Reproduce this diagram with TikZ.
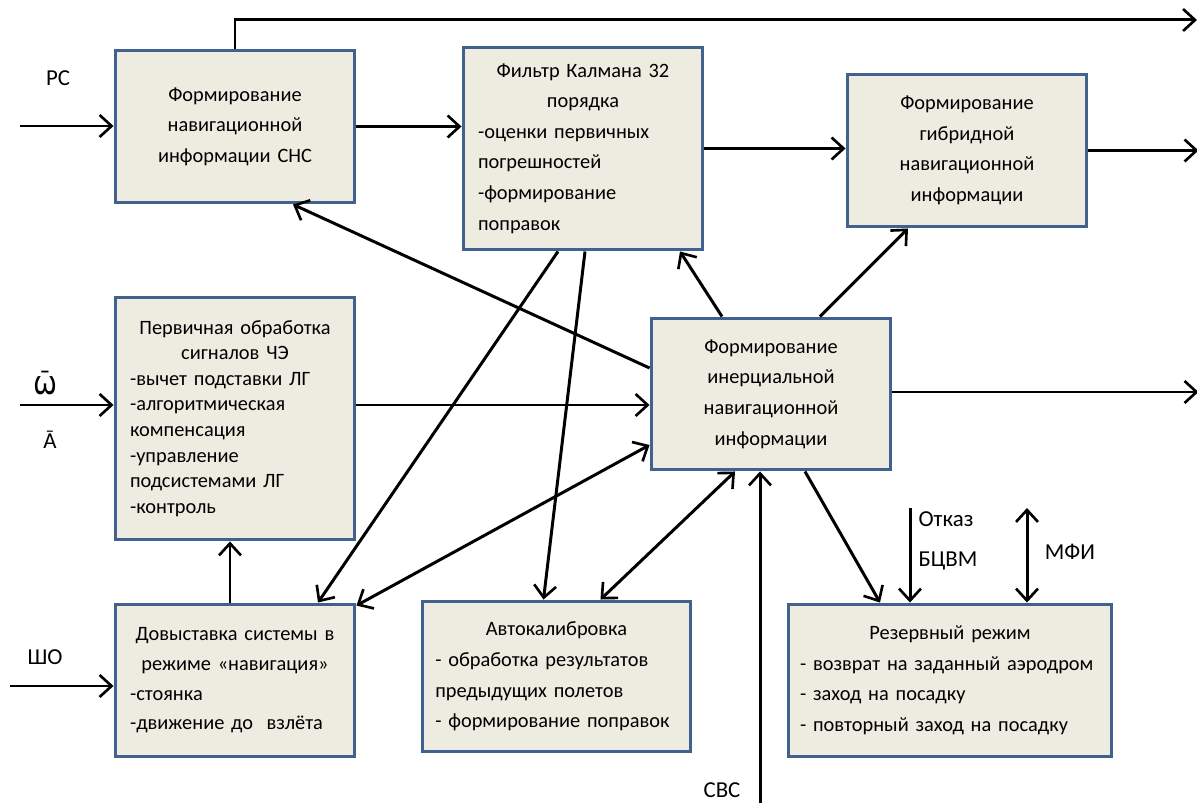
\documentclass[tikz,border=0pt]{standalone}
\usepackage{fontspec}
\setmainfont{Carlito}
\newfontfamily\dejavu{DejaVu Sans}
\usetikzlibrary{arrows.meta,calc}
\definecolor{boxfill}{HTML}{EEEBE1}
\definecolor{boxline}{HTML}{41628F}
\tikzset{
  blok/.style={draw=boxline,line width=1.7pt,fill=boxfill,minimum width=4.8cm,minimum height=3.06cm,
    inner sep=0pt,text width=4.2cm,font=\fontsize{11.6}{17.4}\selectfont},
  arr/.style={line width=1.7pt,-{Straight Barb[length=2.4mm,width=4.4mm,line width=1.5pt]}},
  darr/.style={line width=1.7pt,{Straight Barb[length=2.4mm,width=4.4mm,line width=1.5pt]}-{Straight Barb[length=2.4mm,width=4.4mm,line width=1.5pt]}},
  lbl/.style={font=\fontsize{13}{16}\selectfont}
}
\begin{document}
\begin{tikzpicture}[x=0.02cm,y=-0.02cm]
       \useasboundingbox (0,0) rectangle (1197,803);
       % blocks
       \node[blok,align=center] (sns) at (235,126.5) {Формирование\\навигационной\\информации СНС};
       \node[blok,minimum height=4.06cm] (kal) at (583,148.5) {\centering Фильтр Калмана 32\\порядка\par\raggedright
         -оценки первичных\\погрешностей\\-формирование\\поправок};
       \node[blok,align=center] (hyb) at (967,150.5) {Формирование\\гибридной\\навигационной\\информации};
       \node[blok,minimum height=4.86cm,font=\fontsize{11.6}{14.6}\selectfont] (prim) at (235,418.5) {\centering Первичная обработка\\сигналов ЧЭ\par\raggedright
         -вычет подставки ЛГ\\-алгоритмическая\\компенсация\\-управление\\подсистемами ЛГ\\-контроль};
       \node[blok,align=center,minimum height=3.04cm] (iner) at (771,394) {Формирование\\инерциальной\\навигационной\\информации};
       \node[blok,font=\fontsize{11.6}{16.9}\selectfont] (dov) at (235,680.5) {\centering Довыставка системы в\\режиме «навигация»\par\raggedright
         -стоянка\\-движение до~~взлёта};
       \node[blok,minimum width=5.38cm,text width=4.85cm,minimum height=3.02cm] (auto) at (556.5,676.5) {\centering Автокалибровка\par\raggedright
         - обработка результатов\\предыдущих полетов\\- формирование поправок};
       \node[blok,minimum width=6.48cm,text width=6.0cm] (res) at (950,680.5) {\centering Резервный режим\par\raggedright
         - возврат на заданный аэродром\\- заход на посадку\\- повторный заход на посадку};
       % inputs
       \coordinate (inPC) at (20,126);
       \coordinate (inW) at (20,405);
       \coordinate (inSO) at (10,686);
       \coordinate (topR) at (1197,20);
       \coordinate (svc) at (760,803);
       \coordinate (otk) at (910,508);
       \coordinate (mfi) at (1027,508);
       \node[lbl] (pc) at (58,78) {РС};
       \node[lbl] (om) at (45,383) {\dejavu\fontsize{14}{16}\selectfont\={Ѡ}};
       \node[lbl] (aa) at (50,440) {Ā};
       \node[lbl] (so) at (45,657) {ШО};
       \node[lbl] (svcl) at (722,790) {СВС};
       \node[lbl,align=left] (otkl) at (948,541) {Отказ\\[0.25cm]БЦВМ};
       \node[lbl] (mfil) at (1070,552) {МФИ};
       \draw[arr] (inPC) -- (inPC -| sns.west);
       \draw[arr] (inW) -- (inW -| prim.west);
       \draw[arr] (inSO) -- (inSO -| dov.west);
       % connections
       \draw[arr] (sns.north) |- (topR);
       \draw[arr] (sns.east) -- (sns.east -| kal.west);
       \draw[arr] (kal.east) -- (kal.east -| hyb.west);
       \draw[arr] (hyb.east) -- ++(110,0);
       \draw[arr] (prim.east |- inW) -- (iner.west |- inW);
       \draw[arr] ($(iner.east)+(0,-2)$) -- ++(306,0);
       \draw[arr] ($(iner.west)+(0,-26)$) -- ($(sns.south)+(58,0)$);
       \draw[arr] ($(iner.north)+(-49,0)$) -- ($(kal.south)+(97,0)$);
       \draw[arr] ($(iner.north)+(49,0)$) -- ($(hyb.south)+(-59,0)$);
       \draw[arr] ($(kal.south)+(-25,0)$) -- ($(dov.north)+(83,0)$);
       \draw[arr] ($(kal.south)+(2,0)$) -- ($(auto.north)+(-13,0)$);
       \draw[darr] ($(dov.north east)+(0,3)$) -- ($(iner.west)+(0,51)$);
       \draw[darr] ($(auto.north)+(44,0)$) -- ($(iner.south)+(-36,0)$);
       \draw[arr] (svc) -- (svc |- iner.south);
       \draw[arr] ($(iner.south)+(34,0)$) -- ($(res.north)+(-70,0)$);
       \draw[arr] (otk) -- (otk |- res.north);
       \draw[darr] (mfi) -- (mfi |- res.north);
       \draw[arr] ($(dov.north)+(-5,0)$) -- ($(prim.south)+(-5,0)$);
\end{tikzpicture}
\end{document}
